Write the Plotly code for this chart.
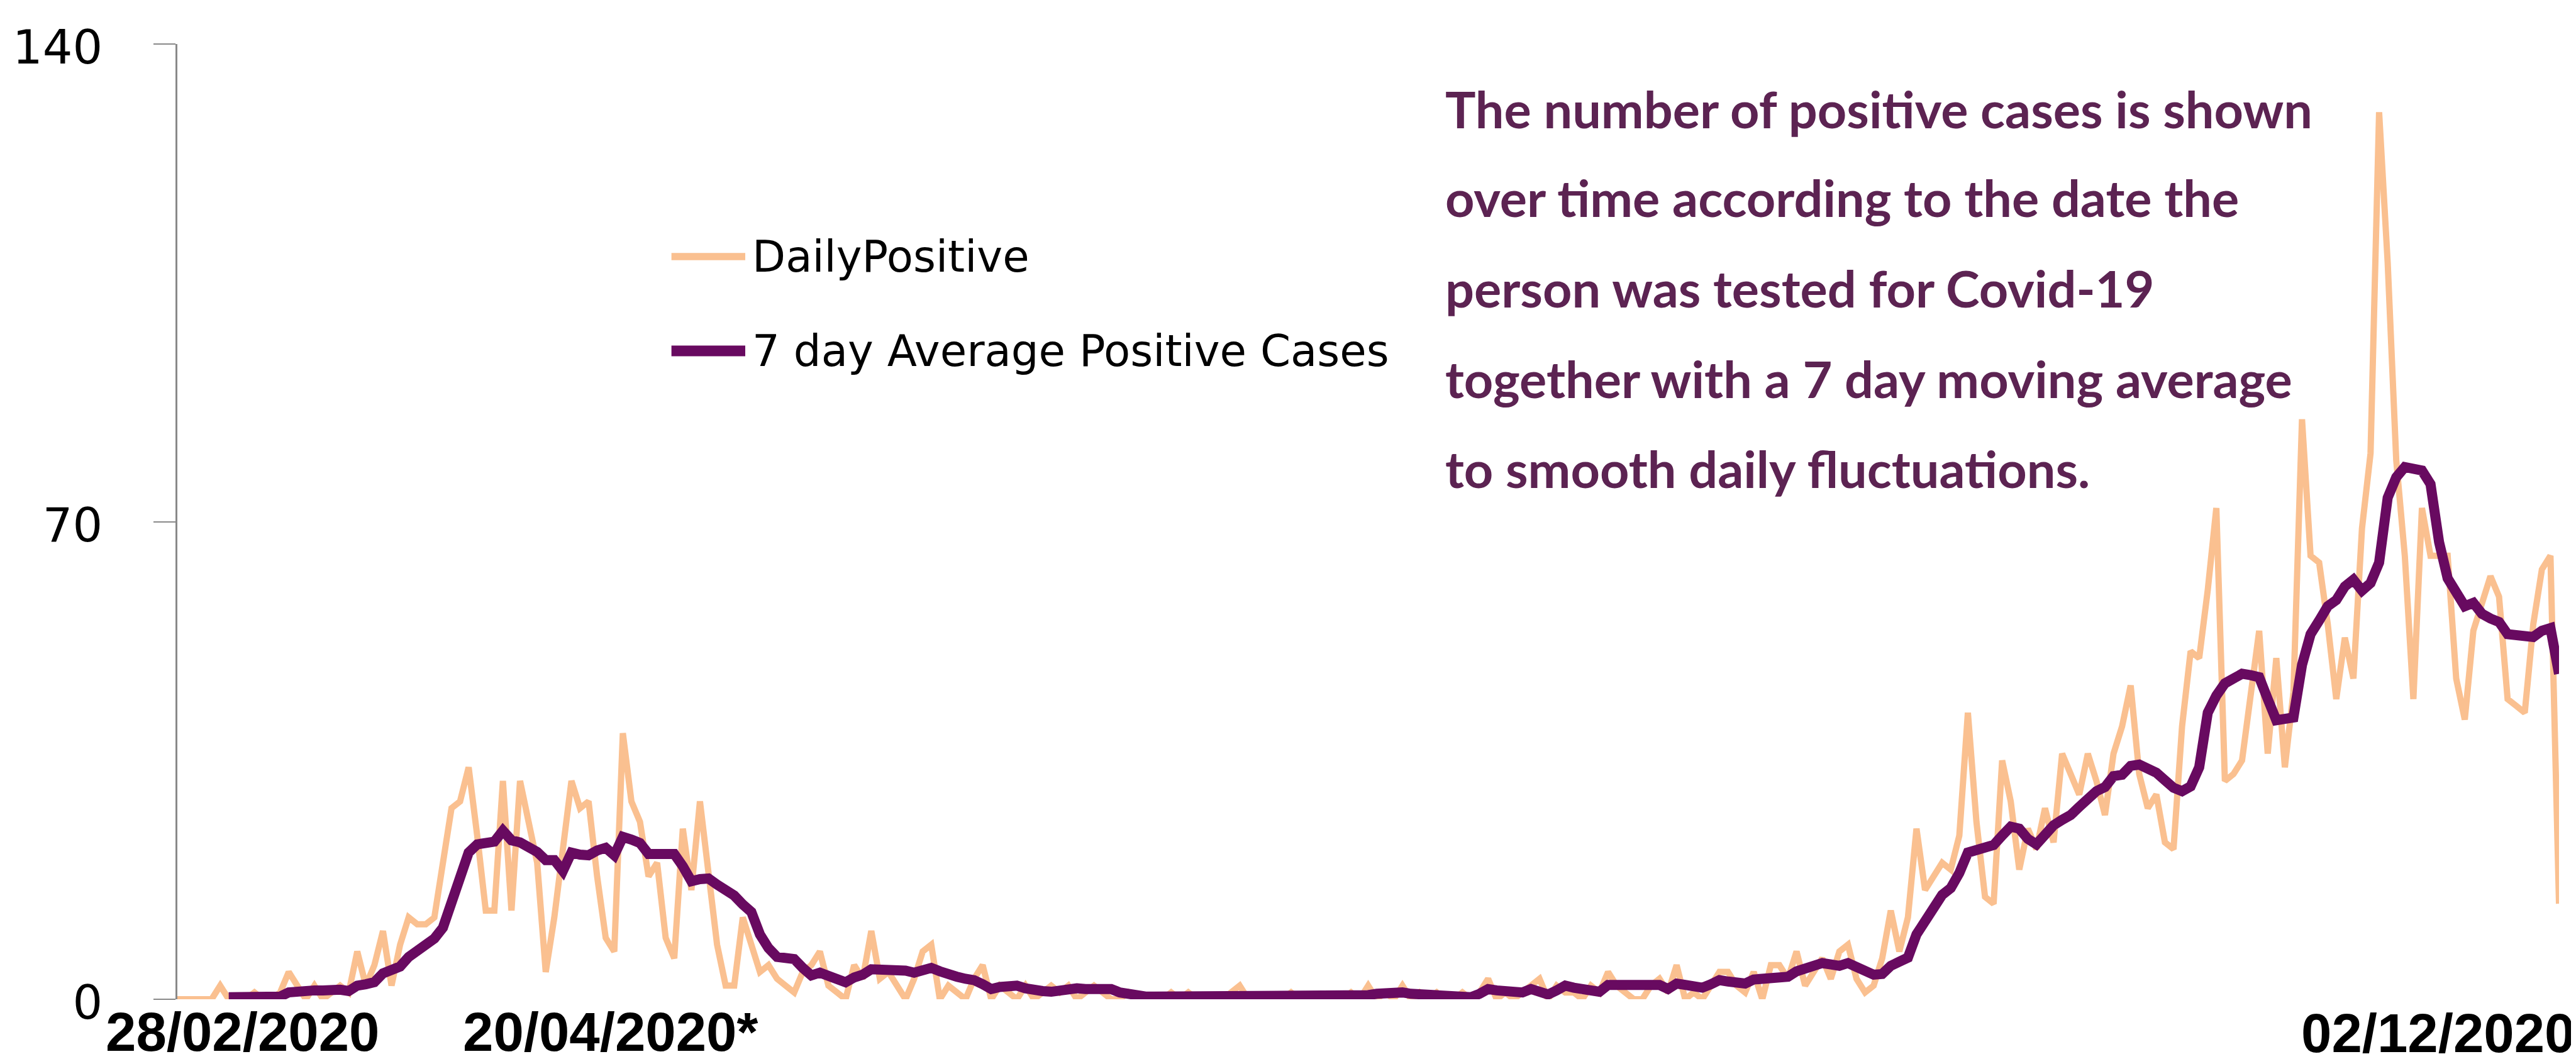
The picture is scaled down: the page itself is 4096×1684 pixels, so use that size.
import plotly.graph_objects as go
import pandas as pd

# ---------------- data ----------------
dates = pd.date_range("2020-02-28", "2020-12-02", freq="D")

daily_positive = [
    0, 0, 0, 0, 0, 2, 0, 0, 0, 1,
    0, 0, 1, 4, 2, 0, 2, 0, 1, 2,
    1, 7, 2, 5, 10, 2, 8, 12, 11, 11,
    12, 20, 28, 29, 34, 24, 13, 13, 32, 13,
    32, 26, 20, 4, 12, 22, 32, 28, 29, 18,
    9, 7, 39, 29, 26, 18, 20, 9, 6, 25,
    16, 29, 18, 8, 2, 2, 12, 8, 4, 5,
    3, 2, 1, 4, 5, 7, 2, 1, 0, 5,
    3, 10, 3, 4, 2, 0, 3, 7, 8, 0,
    2, 1, 0, 3, 5, 0, 2, 1, 0, 2,
    0, 1, 2, 1, 2, 0, 1, 2, 1, 0,
    0, 1, 0, 0, 0, 0, 1, 0, 1, 0,
    0, 0, 0, 1, 2, 0, 0, 0, 0, 0,
    1, 0, 0, 0, 0, 0, 0, 1, 0, 2,
    0, 1, 0, 2, 0, 1, 0, 1, 0, 0,
    1, 0, 1, 3, 0, 1, 0, 1, 2, 3,
    0, 2, 1, 1, 0, 2, 1, 4, 2, 1,
    0, 0, 2, 3, 1, 5, 0, 1, 0, 2,
    4, 4, 2, 1, 4, 0, 5, 5, 3, 7,
    2, 4, 6, 3, 7, 8, 3, 1, 2, 6,
    13, 7, 12, 25, 16, 18, 20, 19, 24, 42,
    26, 15, 14, 35, 29, 19, 25, 22, 28, 23,
    36, 33, 30, 36, 32, 27, 36, 40, 46, 33,
    28, 30, 23, 22, 40, 51, 50, 60, 72, 32,
    33, 35, 45, 54, 36, 50, 34, 45, 85, 65,
    64, 55, 44, 53, 47, 69, 80, 130, 108, 79,
    65, 44, 72, 65, 65, 65, 47, 41, 54, 58,
    62, 59, 44, 43, 42, 55, 63, 65, 14,
]

avg_7day = [
    None, None, None, None, None, None, 0.3, 0.3, 0.3, 0.4,
    0.4, 0.4, 0.4, 1.0, 1.2, 1.2, 1.3, 1.3, 1.4, 1.4,
    1.2, 2.0, 2.2, 2.5, 3.8, 4.3, 4.8, 6.2, 7.2, 8.2,
    8.9, 10.5, 14.5, 18.5, 21.5, 22.7, 22.9, 23.1, 24.7, 23.3,
    23.0, 22.3, 21.6, 20.4, 20.4, 18.8, 21.5, 21.2, 21.1, 21.8,
    22.2, 21.1, 23.8, 23.4, 22.9, 21.3, 21.3, 21.3, 21.3, 19.5,
    17.3, 17.6, 17.7, 16.8, 16.0, 15.2, 13.9, 12.8, 9.5, 7.5,
    6.2, 6.0, 5.9, 4.6, 3.5, 3.9, 3.4, 2.9, 2.5, 3.2,
    3.6, 4.4, 4.4, 4.5, 4.5, 4.2, 3.9, 4.1, 4.6, 4.1,
    3.6, 3.3, 3.0, 2.8, 2.2, 1.5, 1.8, 2.0, 2.0, 1.6,
    1.3, 1.2, 1.1, 1.3, 1.5, 1.6, 1.5, 1.5, 1.5, 1.5,
    1.0, 0.7, 0.5, 0.4, 0.4, 0.4, 0.4, 0.4, 0.4, 0.4,
    0.4, 0.4, 0.4, 0.5, 0.5, 0.5, 0.4, 0.4, 0.4, 0.4,
    0.4, 0.4, 0.4, 0.4, 0.4, 0.4, 0.4, 0.4, 0.5, 0.6,
    0.8, 0.9, 1.0, 1.0, 0.8, 0.7, 0.6, 0.5, 0.5, 0.4,
    0.4, 0.3, 0.8, 1.5, 1.3, 1.2, 1.1, 1.0, 1.5, 1.2,
    0.7, 1.3, 2.0, 1.7, 1.4, 1.2, 1.1, 2.1, 2.1, 2.1,
    2.1, 2.1, 2.1, 2.1, 1.5, 2.3, 2.1, 1.9, 1.7, 2.2,
    2.8, 2.6, 2.4, 2.3, 2.9, 3.0, 3.1, 3.2, 3.3, 4.1,
    4.5, 4.9, 5.3, 5.1, 4.9, 5.3, 4.6, 4.3, 3.6, 3.7,
    4.9, 5.5, 6.1, 9.5, 11.5, 13.5, 15.3, 16.3, 18.5, 21.5,
    21.8, 22.1, 22.6, 24.0, 25.3, 25.0, 23.5, 22.7, 24.2, 25.5,
    26.3, 27.0, 28.2, 29.5, 30.5, 31.1, 32.7, 32.9, 34.2, 34.4,
    33.8, 33.2, 32.1, 31.0, 30.5, 31.2, 34.0, 42.0, 44.5, 46.3,
    47.0, 47.7, 47.5, 47.2, 44.0, 40.9, 41.1, 41.3, 49.0, 53.5,
    55.5, 57.6, 58.5, 60.5, 61.5, 59.9, 61.0, 64.0, 73.5, 76.5,
    78.0, 77.8, 77.5, 75.5, 67.0, 61.7, 59.5, 57.6, 58.1, 56.5,
    55.8, 55.3, 53.5, 53.3, 53.1, 53.1, 54.0, 54.4, 47.7,
]

series_names = ["DailyPositive", "7 day Average Positive Cases"]
y_ticks = [0, 70, 140]
x_labels = ["28/02/2020", "20/04/2020*", "02/12/2020"]
note_lines = [
    "The number of positive cases is shown",
    "over time according to the date the",
    "person was tested for Covid-19",
    "together with a 7 day moving average",
    "to smooth daily fluctuations.",
]

# ---------------- layout geometry (pixels) ----------------
W, H = 4096, 1684
ML, MR, MT, MB = 253, 35, 62, 103
PW = W - ML - MR
PH = H - MT - MB


def px(x):
    return (x - ML) / PW


def py(y):
    return (H - MB - y) / PH


ORANGE = "#FAC090"
PURPLE = "#680A60"
NOTE = "#5C2352"
AXIS_GREY = "#898989"

fig = go.Figure()
fig.add_trace(go.Scatter(
    x=dates, y=daily_positive, mode="lines", name=series_names[0],
    line=dict(color=ORANGE, width=10), cliponaxis=False, showlegend=False,
))
fig.add_trace(go.Scatter(
    x=dates, y=avg_7day, mode="lines", name=series_names[1],
    line=dict(color=PURPLE, width=16), cliponaxis=False, showlegend=False,
))

shapes = []
annotations = []

# manual legend
leg_rows = [(series_names[0], ORANGE, 11.5, 400), (series_names[1], PURPLE, 17, 550)]
for name, col, wdt, yy in leg_rows:
    shapes.append(dict(type="line", xref="paper", yref="paper",
                       x0=px(1043), x1=px(1161), y0=py(yy), y1=py(yy),
                       line=dict(color=col, width=wdt)))
    annotations.append(dict(text=name, xref="paper", yref="paper",
                            x=px(1170), y=py(yy), xanchor="left", yanchor="middle",
                            showarrow=False,
                            font=dict(family="DejaVu Sans", size=69, color="#000000")))

# date labels
label_pos = [(357, 1632), (945, 1632), (3867, 1634)]
for txt, (lx, ly) in zip(x_labels, label_pos):
    annotations.append(dict(text=f"<b>{txt}</b>", xref="paper", yref="paper",
                            x=px(lx), y=py(ly), xanchor="center", yanchor="middle",
                            showarrow=False,
                            font=dict(family="Liberation Sans", size=87, color="#000000")))

# explanatory note
note_y = [164, 306, 449, 593, 736]
for txt, ny in zip(note_lines, note_y):
    annotations.append(dict(text=f"<b>{txt}</b>", xref="paper", yref="paper",
                            x=px(2278), y=py(ny), xanchor="left", yanchor="middle",
                            showarrow=False,
                            font=dict(family="Lato", size=81, color=NOTE)))

fig.update_layout(
    width=W, height=H,
    margin=dict(l=ML, r=MR, t=MT, b=MB, pad=0),
    paper_bgcolor="white", plot_bgcolor="white",
    showlegend=False,
    shapes=shapes, annotations=annotations,
    xaxis=dict(range=[dates[0], dates[-1]], showline=False, showgrid=False,
               zeroline=False, showticklabels=False, ticks=""),
    yaxis=dict(range=[0, 140], tickvals=y_ticks, ticktext=[str(v) for v in y_ticks],
               showline=True, linecolor=AXIS_GREY, linewidth=2.5,
               ticks="outside", ticklen=35, tickwidth=1.5, tickcolor=AXIS_GREY,
               tickfont=dict(family="DejaVu Sans", size=75, color="#000000"),
               ticklabelstandoff=66, ticklabelshift=5,
               showgrid=False, zeroline=False),
)

fig.write_html("out.html")
